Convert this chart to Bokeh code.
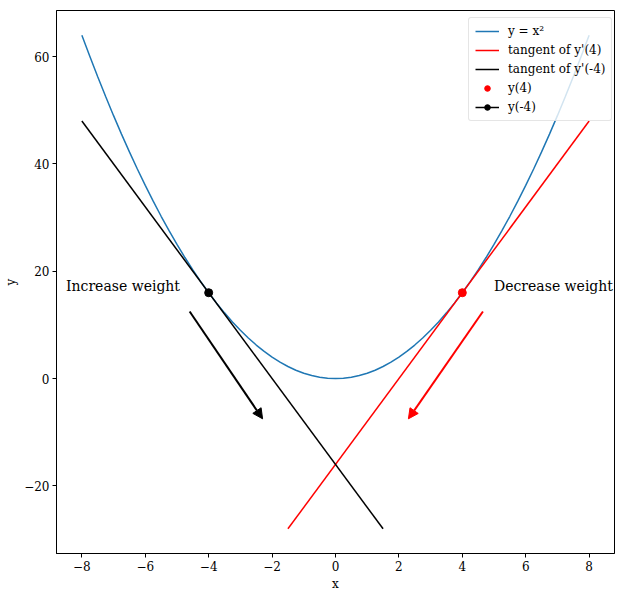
from bokeh.plotting import figure
from bokeh.models import Arrow, NormalHead, Legend, LegendItem, Range1d, FixedTicker, Label
from bokeh.embed import file_html
from bokeh.resources import INLINE

# parabola y = x^2 sampled points
curve_x = [-8.0, -7.75, -7.5, -7.25, -7.0, -6.75, -6.5, -6.25, -6.0, -5.75, -5.5, -5.25, -5.0, -4.75, -4.5, -4.25,
           -4.0, -3.75, -3.5, -3.25, -3.0, -2.75, -2.5, -2.25, -2.0, -1.75, -1.5, -1.25, -1.0, -0.75, -0.5, -0.25,
           0.0, 0.25, 0.5, 0.75, 1.0, 1.25, 1.5, 1.75, 2.0, 2.25, 2.5, 2.75, 3.0, 3.25, 3.5, 3.75,
           4.0, 4.25, 4.5, 4.75, 5.0, 5.25, 5.5, 5.75, 6.0, 6.25, 6.5, 6.75, 7.0, 7.25, 7.5, 7.75, 8.0]
curve_y = [64.0, 60.0625, 56.25, 52.5625, 49.0, 45.5625, 42.25, 39.0625, 36.0, 33.0625, 30.25, 27.5625, 25.0, 22.5625, 20.25, 18.0625,
           16.0, 14.0625, 12.25, 10.5625, 9.0, 7.5625, 6.25, 5.0625, 4.0, 3.0625, 2.25, 1.5625, 1.0, 0.5625, 0.25, 0.0625,
           0.0, 0.0625, 0.25, 0.5625, 1.0, 1.5625, 2.25, 3.0625, 4.0, 5.0625, 6.25, 7.5625, 9.0, 10.5625, 12.25, 14.0625,
           16.0, 18.0625, 20.25, 22.5625, 25.0, 27.5625, 30.25, 33.0625, 36.0, 39.0625, 42.25, 45.5625, 49.0, 52.5625, 56.25, 60.0625, 64.0]

tan_pos_x = [-1.5, 8.0]
tan_pos_y = [-28.0, 48.0]
tan_neg_x = [-8.0, 1.5]
tan_neg_y = [48.0, -28.0]

pt_pos = ([4.0], [16.0])
pt_neg = ([-4.0], [16.0])

arrow_black = (-4.6, 12.5, -2.3, -7.5)
arrow_red = (4.65, 12.5, 2.3, -7.5)

x_ticks = [-8, -6, -4, -2, 0, 2, 4, 6, 8]
y_ticks = [-20, 0, 20, 40, 60]

FONT = "DejaVu Serif"
BLUE = "#1f77b4"

p = figure(frame_width=558, frame_height=543, output_backend="svg", toolbar_location=None,
           x_range=Range1d(-8.8, 8.8), y_range=Range1d(-32.6, 68.6),
           min_border_left=56, min_border_right=11, min_border_top=10, min_border_bottom=45)
p.grid.visible = False
p.outline_line_color = "black"
p.outline_line_width = 1

for ax in (p.xaxis, p.yaxis):
    ax.major_label_text_font = FONT
    ax.major_label_text_font_size = "12px"
    ax.axis_label_text_font = FONT
    ax.axis_label_text_font_size = "12px"
    ax.axis_label_text_font_style = "normal"
    ax.minor_tick_line_color = None
    ax.major_tick_in = 0
    ax.major_tick_out = 4
    ax.major_label_standoff = 3
    ax.axis_line_color = "black"
    ax.major_tick_line_color = "black"
    ax.major_label_text_color = "black"
    ax.axis_label_text_color = "black"
p.xaxis.axis_label = "x"
p.yaxis.axis_label = "y"
p.xaxis.ticker = FixedTicker(ticks=x_ticks)
p.yaxis.ticker = FixedTicker(ticks=y_ticks)
p.xaxis.major_label_overrides = {t: (str(t).replace("-", "\u2212")) for t in x_ticks}
p.yaxis.major_label_overrides = {t: (str(t).replace("-", "\u2212")) for t in y_ticks}
p.yaxis.major_label_orientation = 0
p.xaxis.axis_label_standoff = 3
p.yaxis.axis_label_standoff = 3

r_curve = p.line(curve_x, curve_y, line_color=BLUE, line_width=1.5)
r_tp = p.line(tan_pos_x, tan_pos_y, line_color="red", line_width=1.5)
r_tn = p.line(tan_neg_x, tan_neg_y, line_color="black", line_width=1.5)
r_pp = p.scatter(pt_pos[0], pt_pos[1], size=8, color="red")
r_pn = p.scatter(pt_neg[0], pt_neg[1], size=8, color="black")
r_ln = p.line(pt_neg[0], pt_neg[1], line_color="black", line_width=1.5)

for (x0, y0, x1, y1), c in ((arrow_black, "black"), (arrow_red, "red")):
    p.add_layout(Arrow(x_start=x0, y_start=y0, x_end=x1, y_end=y1, line_color=c, line_width=2,
                       end=NormalHead(size=10, fill_color=c, line_color=c)))

p.add_layout(Label(x=-8.5, y=16, text="Increase weight", text_font=FONT, text_font_size="14px",
                   text_color="black", y_offset=-1))
p.add_layout(Label(x=5.0, y=16, text="Decrease weight", text_font=FONT, text_font_size="14px",
                   text_color="black", y_offset=-1))

legend = Legend(items=[
    LegendItem(label="y = x\u00b2", renderers=[r_curve]),
    LegendItem(label="tangent of y'(4)", renderers=[r_tp]),
    LegendItem(label="tangent of y'(-4)", renderers=[r_tn]),
    LegendItem(label="y(4)", renderers=[r_pp]),
    LegendItem(label="y(-4)", renderers=[r_pn, r_ln]),
], location=(412, 432))
legend.label_text_font = FONT
legend.label_text_font_size = "12px"
legend.label_text_color = "black"
legend.label_height = 14
legend.glyph_height = 14
legend.glyph_width = 24
legend.spacing = 5
legend.padding = 6
legend.margin = 0
legend.border_line_color = "#cccccc"
legend.border_radius = 3
legend.background_fill_alpha = 0.8
legend.label_standoff = 9
p.add_layout(legend)

open("out.html", "w").write(file_html(p, INLINE))
